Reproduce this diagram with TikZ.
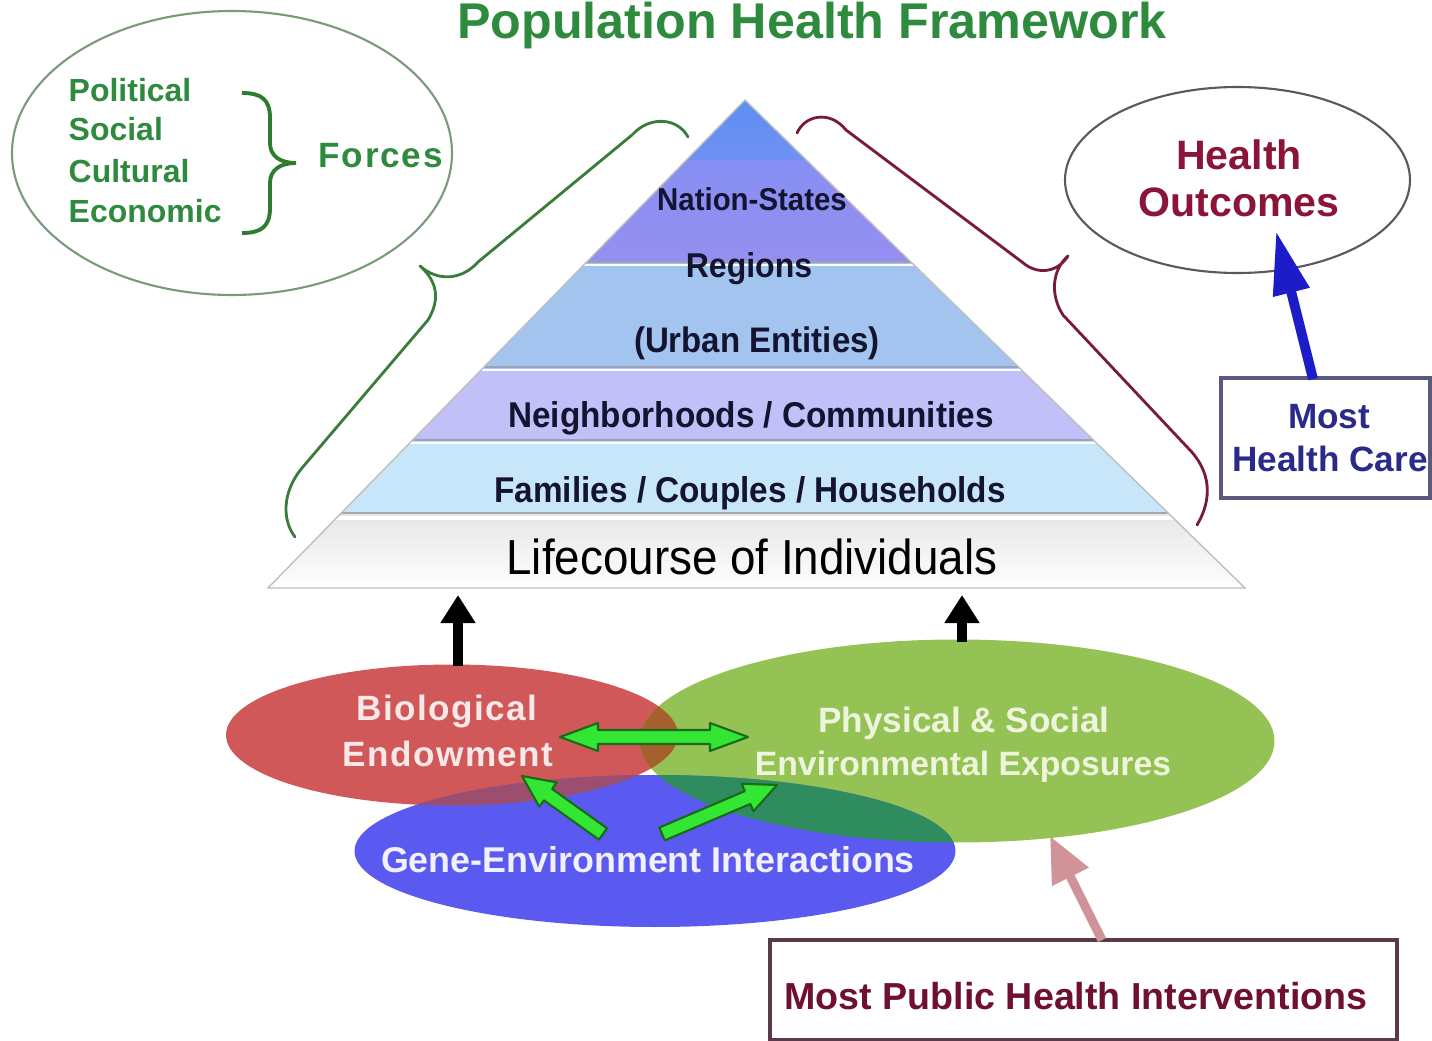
\documentclass[tikz,border=0pt]{standalone}
\usepackage{fontspec}
\setmainfont{Liberation Sans}
\newfontfamily\condf[FakeStretch=0.93]{Liberation Sans}
\usetikzlibrary{calc,shapes.geometric,arrows.meta}
\newcommand\setfs[1]{\fontsize{#1}{#1}\selectfont}
\definecolor{titlegreen}{HTML}{2E8B3E}
\definecolor{ellgreen}{HTML}{7A9A7A}
\definecolor{bracegreen}{HTML}{2E7D2E}
\definecolor{bracegreenb}{HTML}{3A7D3A}
\definecolor{bracered}{HTML}{7A1A3A}
\definecolor{outred}{HTML}{8B1538}
\definecolor{hcblue}{HTML}{2A2A8A}
\definecolor{arrblue}{HTML}{1C1CC8}
\definecolor{pyrtext}{HTML}{141430}
\definecolor{bandA}{HTML}{5B8FF2}
\definecolor{bandAb}{HTML}{6F90F3}
\definecolor{bandB}{HTML}{868FF3}
\definecolor{bandBb}{HTML}{958FF0}
\definecolor{bandC}{HTML}{A4C4F0}
\definecolor{bandD}{HTML}{C2C0F8}
\definecolor{bandE}{HTML}{C8E6FA}
\definecolor{bandF}{HTML}{E6E6E6}
\definecolor{sepline}{HTML}{9AA2B8}
\definecolor{biored}{HTML}{D05858}
\definecolor{envgreen}{HTML}{94C254}
\definecolor{geneblue}{HTML}{5A5AF0}
\definecolor{rgmix}{HTML}{A5602E}
\definecolor{gbmix}{HTML}{2E8C5E}
\definecolor{rbmix}{HTML}{9C4E6E}
\definecolor{rgbmix}{HTML}{7A5A40}
\definecolor{garfill}{HTML}{33E633}
\definecolor{garline}{HTML}{1A6A1A}
\definecolor{pinkarr}{HTML}{D09498}
\definecolor{phbox}{HTML}{5A3A4A}
\definecolor{phtext}{HTML}{701030}
\definecolor{hcbox}{HTML}{5A5A80}
\definecolor{biotext}{HTML}{F8E8E8}
\definecolor{envtext}{HTML}{EEF5DC}
\definecolor{genetext}{HTML}{F0F0FF}
\newcommand\gblockarrow[2]{%
  \path ($(#2)!3.2mm!(#1)$) coordinate (bah);
  \filldraw[garrow] ($(#1)!0.7mm!90:(#2)$) -- ($(bah)!0.7mm!90:(#2)$) -- ($(bah)!1.5mm!90:(#2)$) -- (#2) -- ($(bah)!1.5mm!-90:(#2)$) -- ($(bah)!0.7mm!-90:(#2)$) -- ($(#1)!0.7mm!-90:(#2)$) -- cycle;}
\begin{document}
\begin{tikzpicture}[x=0.1mm,y=-0.1mm,
  pyr/.style={font=\condf\bfseries, text=pyrtext, inner sep=0, anchor=base},
  forcetxt/.style={font=\bfseries\setfs{9.1}, text=titlegreen, inner sep=0, anchor=base west},
  garrow/.style={fill=garfill, draw=garline, line width=0.6pt, line join=round},
  blackarr/.style={line width=2.8pt, -{Triangle[length=8pt,width=9.5pt]}},
  brace/.style={line width=0.8pt, line cap=round, line join=round}
]
\useasboundingbox (0,0) rectangle (1432,1041);
\fill[white] (0,0) rectangle (1432,1041);

% title
\node[font=\bfseries\setfs{14.3}, text=titlegreen, anchor=base, inner sep=0] (title) at (812,39) {Population Health Framework};

% forces ellipse
\node[ellipse, draw=ellgreen, line width=0.6pt, minimum width=44mm, minimum height=28.4mm, inner sep=0] (forcesell) at (232,153) {};
\node[forcetxt] (pol) at (68,101) {Political};
\node[forcetxt] (soc) at (68,140) {Social};
\node[forcetxt] (cul) at (68,182) {Cultural};
\node[forcetxt] (eco) at (68,222) {Economic};
\draw[bracegreen, line width=1.1pt] (242,93) .. controls (262,93) and (270,100) .. (270,118) -- (270,143) .. controls (270,156) and (280,163) .. (296,163) .. controls (280,163) and (270,170) .. (270,183) -- (270,208) .. controls (270,226) and (262,233) .. (242,233);
\node[font=\bfseries\setfs{10}\addfontfeature{LetterSpace=5}, text=titlegreen, anchor=base west, inner sep=0] (forces) at (318,168) {Forces};

% health outcomes ellipse
\node[ellipse, draw=black!65, line width=0.6pt, minimum width=34.5mm, minimum height=18.6mm, inner sep=0] (hoell) at (1237.5,180) {};
\node[font=\bfseries\setfs{11.7}, text=outred, anchor=base, inner sep=0] (hoa) at (1239,169) {Health};
\node[font=\bfseries\setfs{11.7}, text=outred, anchor=base, inner sep=0] (hob) at (1239,217) {Outcomes};

% pyramid
\coordinate (apex) at (745,100);
\coordinate (bl) at (268,588);
\coordinate (br) at (1245,588);
\begin{scope}
  \clip (apex) -- (bl) -- (br) -- cycle;
  \shade[top color=bandA, bottom color=bandAb] (200,90) rectangle (1300,160);
  \shade[top color=bandB, bottom color=bandBb] (200,160) rectangle (1300,262);
  \fill[bandC] (200,262) rectangle (1300,367);
  \fill[bandD] (200,367) rectangle (1300,440);
  \fill[bandE] (200,440) rectangle (1300,513);
  \shade[top color=bandF, bottom color=white] (200,513) rectangle (1300,590);
  \foreach \yy in {262,367,440} {
    \draw[sepline, line width=0.5pt] (200,\yy) -- (1300,\yy);
    \draw[white, line width=0.6pt] (200,\yy+3) -- (1300,\yy+3);
  }
  \draw[black!35, line width=0.8pt] (200,513) -- (1300,513);
  \draw[white, line width=1pt] (200,518) -- (1300,518);
\end{scope}
\draw[black!25, line width=0.4pt] (apex) -- (bl) -- (br) -- cycle;
\node[pyr, font=\condf\bfseries\setfs{9}] (nat) at (752,210) {Nation-States};
\node[pyr, font=\condf\bfseries\setfs{9.8}] (reg) at (749,277) {Regions};
\node[pyr, font=\condf\bfseries\setfs{10.1}] (urb) at (757,352) {(Urban Entities)};
\node[pyr, font=\condf\bfseries\setfs{10.2}] (nei) at (751,427) {Neighborhoods / Communities};
\node[pyr, font=\condf\bfseries\setfs{10.2}] (fam) at (750,502) {Families / Couples / Households};
\node[pyr, font=\condf\setfs{14}, text=black] (life) at (752,574) {Lifecourse of Individuals};

% braces along the pyramid
\draw[bracegreenb, brace] (688,137) .. controls (678,118) and (650,115) .. (632,135) -- (478,262) .. controls (462,280) and (438,282) .. (420,266) .. controls (438,282) and (440,300) .. (428,320) -- (302,468) .. controls (282,492) and (282,520) .. (295,537);
\draw[bracered, brace] (797,133) .. controls (805,115) and (830,110) .. (846,130) -- (1022,262) .. controls (1038,276) and (1058,272) .. (1068,256) .. controls (1052,270) and (1050,295) .. (1063,315) -- (1188,448) .. controls (1212,472) and (1212,500) .. (1197,525);

% most health care
\node[draw=hcbox, line width=1pt, fill=white, minimum width=20.9mm, minimum height=12mm, inner sep=0] (mhc) at (1325.5,438) {};
\node[font=\bfseries\setfs{10}, text=hcblue, anchor=base, inner sep=0] (mhca) at (1329,428) {Most};
\node[font=\bfseries\setfs{10}, text=hcblue, anchor=base, inner sep=0] (mhcb) at (1330,472) {Health Care};
\coordinate (bluestart) at (1313,379);
\coordinate (bluetip) at (1276,231);
\draw[arrblue, line width=2.8pt, -{Triangle[length=18pt,width=10pt]}] (bluestart) -- (bluetip);

% bottom ellipses
\node[ellipse, fill=biored, minimum width=45.2mm, minimum height=14.1mm, inner sep=0] (bio) at (452,735) {};
\node[ellipse, fill=envgreen, minimum width=63.5mm, minimum height=20.3mm, inner sep=0] (env) at (957,741) {};
\node[ellipse, fill=geneblue, minimum width=60.1mm, minimum height=15.2mm, inner sep=0] (gene) at (655,851) {};
\begin{scope}
  \clip (452,735) ellipse [x radius=22.6mm, y radius=7.05mm];
  \fill[rgmix] (957,741) ellipse [x radius=31.75mm, y radius=10.15mm];
  \fill[rbmix] (655,851) ellipse [x radius=30.05mm, y radius=7.6mm];
  \clip (957,741) ellipse [x radius=31.75mm, y radius=10.15mm];
  \fill[rgbmix] (655,851) ellipse [x radius=30.05mm, y radius=7.6mm];
\end{scope}
\begin{scope}[even odd rule]
  \clip (957,741) ellipse [x radius=31.75mm, y radius=10.15mm];
  \clip (0,0) rectangle (1432,1041) (452,735) ellipse [x radius=22.6mm, y radius=7.05mm];
  \fill[gbmix] (655,851) ellipse [x radius=30.05mm, y radius=7.6mm];
\end{scope}

\node[font=\bfseries\setfs{10}\addfontfeature{LetterSpace=4}, text=biotext, anchor=base, inner sep=0] (bioa) at (447,720) {Biological};
\node[font=\bfseries\setfs{10}\addfontfeature{LetterSpace=4}, text=biotext, anchor=base, inner sep=0] (biob) at (448,767) {Endowment};
\node[font=\bfseries\setfs{10}, text=envtext, anchor=base, inner sep=0] (enva) at (964,732) {Physical \& Social};
\node[font=\bfseries\setfs{9.6}, text=envtext, anchor=base, inner sep=0] (envb) at (963,775) {Environmental Exposures};
\node[font=\bfseries\setfs{10.2}, text=genetext, anchor=base, inner sep=0] (genea) at (648,872) {Gene-Environment Interactions};

% green block arrows
\filldraw[garrow] (560,737) -- (598,723) -- (598,730) -- (710,730) -- (710,723) -- (748,737) -- (710,751) -- (710,744) -- (598,744) -- (598,751) -- cycle;
\coordinate (ga1t) at (603,834);
\coordinate (ga1h) at (522,776);
\coordinate (ga2t) at (662,834);
\coordinate (ga2h) at (777,785);
\gblockarrow{ga1t}{ga1h}
\gblockarrow{ga2t}{ga2h}

% black arrows to pyramid
\coordinate (bioTop) at (458,666);
\coordinate (lcL) at (458,595);
\coordinate (envTop) at (962,642);
\coordinate (lcR) at (962,595);
\draw[blackarr] (bioTop) -- (lcL);
\draw[blackarr] (envTop) -- (lcR);

% most public health interventions
\node[draw=phbox, line width=1pt, fill=white, minimum width=62.7mm, minimum height=10mm, inner sep=0] (mph) at (1083.5,990) {};
\node[font=\bfseries\setfs{10.7}, text=phtext, anchor=base, inner sep=0] (mpht) at (1076,1009) {Most Public Health Interventions};
\coordinate (pinkstart) at (1102,940);
\coordinate (pinktip) at (1050,836);
\draw[pinkarr, line width=2.6pt, -{Triangle[length=13pt,width=11pt]}] (pinkstart) -- (pinktip);
\end{tikzpicture}
\end{document}
